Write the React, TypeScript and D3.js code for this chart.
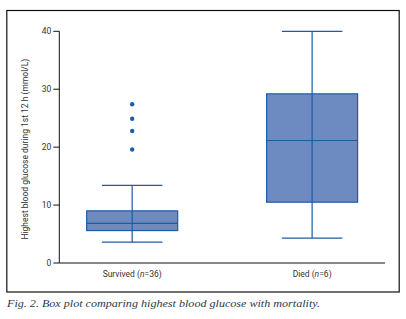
import React from "react";
import * as d3 from "d3";

const groups = ["Survived", "Died"];
const groupN = ["36", "6"];
const whiskerLow = [3.6, 4.3];
const q1 = [5.6, 10.5];
const median = [6.85, 21.15];
const q3 = [9.0, 29.2];
const whiskerHigh = [13.4, 40];
const outliersSurvived = [19.6, 22.8, 24.9, 27.4];
const outliersDied: number[] = [];
const yTicks = [0, 10, 20, 30, 40];

const W = 406;
const H = 319;
const axisLeft = 59.3;
const axisRight = 385;
const yTop = 31.3;
const yBottom = 263;
const boxW = 91;
const capW = 60.5;
const fill = "#6d8bc0";
const stroke = "#1d5ca5";
const font = "Roboto, 'Open Sans', sans-serif";

export default function App() {
  const y = d3.scaleLinear().domain([0, 40]).range([yBottom, yTop]);
  const x = d3.scalePoint<string>().domain(groups).range([axisLeft, axisRight]).padding(0.405);
  const outliers = [outliersSurvived, outliersDied];
  return (
    <svg width={W} height={H} style={{ position: "absolute", left: 0, top: 0 }}>
      <rect x={0} y={0} width={W} height={H} fill="#fff" />
      <rect x={6.8} y={10.5} width={392.4} height={281.5} fill="none" stroke="#111" strokeWidth={1.2} />
      <line x1={axisLeft} x2={axisLeft} y1={yTop} y2={yBottom} stroke="#111" strokeWidth={1} />
      <line x1={axisLeft} x2={axisRight} y1={yBottom} y2={yBottom} stroke="#111" strokeWidth={1} />
      {yTicks.map((t) => (
        <g key={t}>
          <line x1={axisLeft - 6} x2={axisLeft} y1={y(t)} y2={y(t)} stroke="#111" strokeWidth={1} />
          <text x={axisLeft - 8} y={y(t)} dy="0.35em" textAnchor="end" fontSize={8.5} fontFamily={font} fill="#333">
            {t}
          </text>
        </g>
      ))}
      <text
        transform={`translate(25,${(yTop + yBottom) / 2 + 2}) rotate(-90)`}
        textAnchor="middle"
        fontSize={8.5}
        fontFamily={font}
        fill="#333"
        dy="0.35em"
      >
        Highest blood glucose during 1st 12 h (mmol/L)
      </text>
      {groups.map((g, i) => {
        const cx = x(g) as number;
        return (
          <g key={g}>
            <line x1={cx} x2={cx} y1={y(whiskerLow[i])} y2={y(whiskerHigh[i])} stroke={stroke} strokeWidth={1.2} />
            <line x1={cx - capW / 2} x2={cx + capW / 2} y1={y(whiskerHigh[i])} y2={y(whiskerHigh[i])} stroke={stroke} strokeWidth={1.2} />
            <line x1={cx - capW / 2} x2={cx + capW / 2} y1={y(whiskerLow[i])} y2={y(whiskerLow[i])} stroke={stroke} strokeWidth={1.2} />
            <rect
              x={cx - boxW / 2}
              y={y(q3[i])}
              width={boxW}
              height={y(q1[i]) - y(q3[i])}
              fill={fill}
              stroke={stroke}
              strokeWidth={1.2}
            />
            <line x1={cx} x2={cx} y1={y(q3[i])} y2={y(q1[i])} stroke={stroke} strokeWidth={1.2} />
            <line x1={cx - boxW / 2} x2={cx + boxW / 2} y1={y(median[i])} y2={y(median[i])} stroke={stroke} strokeWidth={1.2} />
            {outliers[i].map((o, j) => (
              <circle key={j} cx={cx} cy={y(o)} r={2.2} fill="#1c5db2" />
            ))}
            <text x={cx} y={277} textAnchor="middle" fontSize={8.5} fontFamily={font} fill="#333">
              {g} (<tspan fontStyle="italic">n</tspan>={groupN[i]})
            </text>
          </g>
        );
      })}
      <text
        x={7}
        y={306.5}
        fontSize={10.8}
        fontFamily="'Liberation Serif', 'DejaVu Serif', serif"
        fontStyle="italic"
        fill="#2a3a4a"
        textLength={313}
        lengthAdjust="spacingAndGlyphs"
      >
        Fig. 2. Box plot comparing highest blood glucose with mortality.
      </text>
    </svg>
  );
}
